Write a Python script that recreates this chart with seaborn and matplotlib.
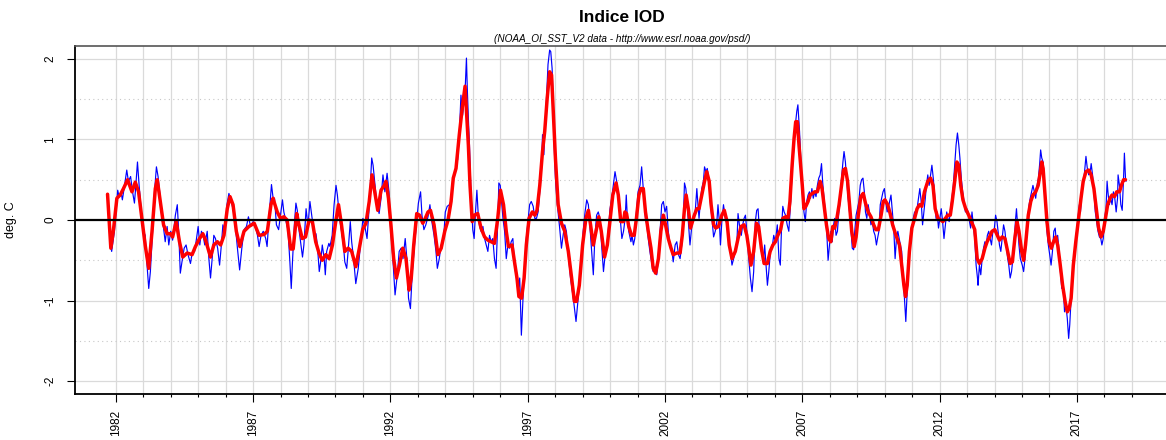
import matplotlib
matplotlib.use("Agg")
import pandas as pd
import matplotlib.pyplot as plt
import seaborn as sns

# values: (decimal year, IOD index in deg. C)
# blue = weekly index, red = smoothed index

blue_1982_1987 = [(1981.70,0.32),(1981.79,-0.27),(1981.85,-0.39),(1981.95,-0.14),(1982.01,0.10),(1982.07,0.37),(1982.12,0.29),(1982.20,0.33),(1982.24,0.25),(1982.32,0.43),
    (1982.40,0.62),(1982.46,0.48),(1982.54,0.54),(1982.61,0.35),(1982.68,0.21),(1982.73,0.43),(1982.79,0.72),(1982.85,0.43),(1982.93,0.10),(1983.01,-0.14),
    (1983.07,-0.19),(1983.13,-0.52),(1983.20,-0.85),(1983.26,-0.64),(1983.34,-0.14),(1983.41,0.35),(1983.48,0.66),(1983.54,0.54),(1983.61,0.31),(1983.68,0.02),
    (1983.74,-0.10),(1983.80,-0.27),(1983.87,-0.08),(1983.93,-0.31),(1984.00,-0.14),(1984.07,-0.25),(1984.17,0.06),(1984.24,0.19),(1984.29,-0.14),(1984.35,-0.66),
    (1984.41,-0.52),(1984.49,-0.35),(1984.56,-0.31),(1984.63,-0.43),(1984.72,-0.54),(1984.78,-0.41),(1984.87,-0.39),(1984.94,-0.23),(1985.00,-0.08),(1985.06,-0.31),
    (1985.12,-0.14),(1985.18,-0.19),(1985.24,-0.31),(1985.33,-0.14),(1985.39,-0.48),(1985.45,-0.72),(1985.51,-0.48),(1985.57,-0.19),(1985.63,-0.23),(1985.71,-0.35),
    (1985.78,-0.56),(1985.85,-0.29),(1985.90,-0.06),(1985.98,-0.14),(1986.05,0.19),(1986.12,0.33),(1986.20,0.23),(1986.27,0.14),(1986.34,-0.02),(1986.43,-0.35),
    (1986.51,-0.62),(1986.59,-0.35),(1986.67,-0.12),(1986.76,-0.08),(1986.83,0.04),(1986.91,-0.08),(1987.00,-0.02),(1987.07,-0.06),(1987.16,-0.19),(1987.22,-0.33),
    (1987.29,-0.19),(1987.37,-0.14),(1987.46,-0.23),(1987.51,-0.33),(1987.59,0.08),(1987.67,0.44),(1987.73,0.27)]

blue_1988_1994 = [(1987.78,0.27),(1987.85,-0.06),(1987.93,-0.12),(1988.00,0.06),(1988.07,0.25),(1988.12,0.10),(1988.20,-0.02),(1988.27,-0.12),(1988.34,-0.52),(1988.39,-0.85),
    (1988.44,-0.48),(1988.51,-0.02),(1988.56,0.21),(1988.61,0.12),(1988.68,-0.14),(1988.73,-0.27),(1988.80,-0.46),(1988.85,-0.31),(1988.93,0.14),(1989.00,-0.08),
    (1989.07,0.23),(1989.15,0.02),(1989.22,-0.19),(1989.29,-0.17),(1989.34,-0.31),(1989.41,-0.64),(1989.46,-0.52),(1989.52,-0.31),(1989.59,-0.48),(1989.63,-0.68),
    (1989.68,-0.39),(1989.76,-0.29),(1989.80,-0.33),(1989.88,-0.19),(1989.95,0.19),(1990.02,0.43),(1990.07,0.31),(1990.15,0.02),(1990.22,-0.14),(1990.29,-0.31),
    (1990.34,-0.52),(1990.41,-0.60),(1990.46,-0.39),(1990.54,-0.02),(1990.59,-0.27),(1990.66,-0.48),(1990.74,-0.79),(1990.83,-0.60),(1990.93,-0.23),(1991.00,0.02),
    (1991.07,-0.08),(1991.15,-0.23),(1991.22,0.12),(1991.27,0.43),(1991.32,0.77),(1991.37,0.68),(1991.44,0.43),(1991.51,0.19),(1991.59,0.08),(1991.66,0.27),
    (1991.73,0.56),(1991.80,0.35),(1991.88,0.58),(1991.95,0.35),(1992.00,-0.06),(1992.09,-0.48),(1992.17,-0.93),(1992.24,-0.72),(1992.32,-0.39),(1992.39,-0.35),
    (1992.46,-0.48),(1992.54,-0.23),(1992.61,-0.52),(1992.66,-0.97),(1992.73,-1.10),(1992.80,-0.64),(1992.88,-0.31),(1992.95,-0.04),(1993.02,0.21),(1993.10,0.35),
    (1993.15,0.06),(1993.22,-0.12),(1993.29,-0.06),(1993.37,0.04),(1993.44,0.19),(1993.51,-0.02),(1993.59,-0.19),(1993.66,-0.39),(1993.71,-0.60),(1993.78,-0.48),
    (1993.85,-0.31),(1993.93,-0.27),(1994.00,0.10),(1994.07,0.17),(1994.15,0.19)]

blue_1994_2000 = [(1994.21,0.19),(1994.27,0.48),(1994.33,0.54),(1994.39,0.68),(1994.45,0.75),(1994.51,1.06),(1994.57,1.55),(1994.63,1.30),(1994.70,1.55),(1994.73,1.68),
    (1994.77,2.01),(1994.80,1.64),(1994.84,1.26),(1994.88,0.93),(1994.94,0.27),(1995.00,-0.12),(1995.05,-0.23),(1995.10,0.10),(1995.15,0.37),(1995.20,0.06),
    (1995.24,-0.06),(1995.30,-0.14),(1995.37,-0.08),(1995.43,-0.23),(1995.49,-0.31),(1995.55,-0.39),(1995.61,-0.19),(1995.67,-0.27),(1995.73,-0.23),(1995.79,-0.48),
    (1995.85,-0.60),(1995.91,-0.02),(1995.95,0.46),(1996.00,0.43),(1996.05,0.23),(1996.10,0.02),(1996.16,-0.14),(1996.22,-0.48),(1996.28,-0.31),(1996.34,-0.35),
    (1996.40,-0.27),(1996.46,-0.23),(1996.52,-0.56),(1996.59,-0.72),(1996.65,-0.89),(1996.71,-0.72),(1996.77,-1.43),(1996.83,-0.97),(1996.89,-0.56),(1996.95,-0.23),
    (1997.01,-0.02),(1997.07,0.19),(1997.13,0.23),(1997.20,0.17),(1997.26,0.02),(1997.32,0.02),(1997.38,0.10),(1997.44,0.35),(1997.50,0.60),(1997.54,1.06),
    (1997.59,0.81),(1997.62,1.10),(1997.68,1.47),(1997.74,1.93),(1997.80,2.11),(1997.84,2.09),(1997.89,1.88),(1997.93,1.43),(1997.96,0.97),(1998.01,0.52),
    (1998.07,0.23),(1998.17,-0.12),(1998.23,-0.35),(1998.29,-0.19),(1998.35,-0.06),(1998.41,-0.14),(1998.48,-0.43),(1998.56,-0.72),(1998.66,-0.97),(1998.76,-1.26),
    (1998.84,-0.97),(1998.93,-0.64),(1999.02,-0.14),(1999.09,0.10),(1999.15,0.25),(1999.21,0.19),(1999.27,-0.10),(1999.33,-0.39),(1999.39,-0.68),(1999.45,-0.19),
    (1999.51,0.06),(1999.57,0.10),(1999.63,0.02),(1999.70,-0.35),(1999.76,-0.64),(1999.82,-0.43),(1999.88,-0.35),(1999.94,-0.10),(2000.00,0.14),(2000.06,0.27),
    (2000.12,0.43),(2000.18,0.60),(2000.24,0.48),(2000.30,0.27),(2000.37,0.02),(2000.43,-0.23),(2000.49,-0.14),(2000.55,0.02)]

blue_2000_2006 = [(2000.59,0.31),(2000.63,0.02),(2000.68,-0.14),(2000.76,-0.27),(2000.80,-0.19),(2000.85,-0.31),(2000.90,-0.23),(2000.96,0.10),(2001.02,0.35),(2001.09,0.43),
    (2001.15,0.66),(2001.20,0.43),(2001.24,0.27),(2001.29,0.02),(2001.34,-0.06),(2001.39,-0.23),(2001.45,-0.39),(2001.51,-0.52),(2001.57,-0.64),(2001.63,-0.58),
    (2001.70,-0.68),(2001.76,-0.48),(2001.82,-0.14),(2001.88,0.19),(2001.94,0.23),(2002.00,0.10),(2002.06,0.17),(2002.12,-0.14),(2002.18,-0.31),(2002.24,-0.35),
    (2002.30,-0.52),(2002.37,-0.31),(2002.43,-0.27),(2002.49,-0.43),(2002.55,-0.48),(2002.61,-0.31),(2002.67,0.02),(2002.71,0.46),(2002.76,0.39),(2002.80,0.23),
    (2002.85,-0.02),(2002.91,-0.31),(2002.98,-0.06),(2003.04,0.06),(2003.10,0.10),(2003.16,0.39),(2003.20,0.19),(2003.24,0.02),(2003.29,0.23),(2003.34,0.39),
    (2003.40,0.48),(2003.44,0.66),(2003.49,0.60),(2003.54,0.64),(2003.59,0.52),(2003.65,0.23),(2003.71,0.02),(2003.77,-0.21),(2003.83,-0.14),(2003.89,-0.02),
    (2003.93,0.19),(2003.98,-0.02),(2004.02,-0.31),(2004.07,-0.02),(2004.13,0.19),(2004.20,0.02),(2004.26,-0.06),(2004.32,-0.27),(2004.38,-0.39),(2004.44,-0.56),
    (2004.50,-0.48),(2004.56,-0.39),(2004.62,-0.27),(2004.66,0.08),(2004.71,-0.06),(2004.78,-0.19),(2004.83,-0.06),(2004.88,0.02),(2004.93,0.06),(2004.98,-0.14),
    (2005.05,-0.48),(2005.11,-0.72),(2005.17,-0.89),(2005.23,-0.64),(2005.29,-0.02),(2005.34,0.12),(2005.39,0.14),(2005.44,-0.14),(2005.51,-0.39),(2005.59,-0.48),
    (2005.63,-0.31),(2005.68,-0.56),(2005.73,-0.81),(2005.78,-0.64),(2005.84,-0.39),(2005.90,-0.35),(2005.96,-0.19),(2006.02,-0.27),(2006.09,-0.06),(2006.15,-0.48),
    (2006.20,-0.56),(2006.24,-0.14),(2006.29,0.17),(2006.34,0.10),(2006.39,0.06),(2006.45,-0.06),(2006.51,-0.14),(2006.57,0.19),(2006.63,0.60),(2006.70,0.93),
    (2006.76,1.22),(2006.80,1.35),(2006.84,1.43),(2006.90,1.10)]

blue_2007_2013 = [(2007.00,0.35),(2007.06,0.10),(2007.11,-0.02),(2007.16,0.23),(2007.21,0.31),(2007.26,0.35),(2007.30,0.27),(2007.35,0.39),(2007.40,0.27),(2007.45,0.35),
    (2007.50,0.29),(2007.55,0.43),(2007.60,0.52),(2007.65,0.56),(2007.70,0.70),(2007.74,0.48),(2007.79,0.27),(2007.84,0.10),(2007.89,-0.14),(2007.94,-0.50),
    (2007.99,-0.31),(2008.04,-0.14),(2008.09,-0.27),(2008.13,-0.08),(2008.18,0.02),(2008.23,-0.19),(2008.28,-0.14),(2008.33,0.10),(2008.38,0.23),(2008.43,0.52),
    (2008.48,0.72),(2008.52,0.85),(2008.57,0.72),(2008.62,0.48),(2008.67,0.27),(2008.72,0.10),(2008.77,-0.10),(2008.82,-0.35),(2008.87,-0.37),(2008.91,-0.14),
    (2008.96,0.06),(2009.01,0.14),(2009.06,0.23),(2009.11,0.43),(2009.16,0.50),(2009.21,0.52),(2009.26,0.35),(2009.30,0.10),(2009.35,0.02),(2009.40,0.19),
    (2009.45,0.08),(2009.50,-0.06),(2009.55,-0.02),(2009.60,-0.14),(2009.65,-0.19),(2009.70,-0.31),(2009.74,-0.23),(2009.79,-0.14),(2009.84,0.19),(2009.89,0.27),
    (2009.94,0.35),(2009.99,0.39),(2010.04,0.23),(2010.09,0.10),(2010.13,0.14),(2010.18,0.23),(2010.23,0.31),(2010.28,0.10),(2010.33,-0.10),(2010.38,-0.48),
    (2010.43,-0.23),(2010.48,-0.14),(2010.55,-0.27),(2010.62,-0.39),(2010.67,-0.72),(2010.72,-0.97),(2010.77,-1.26),(2010.82,-0.89),(2010.89,-0.48),(2010.94,-0.19),
    (2010.99,-0.14),(2011.04,0.02),(2011.09,0.10),(2011.13,0.06),(2011.18,0.14),(2011.23,0.27),(2011.28,0.39),(2011.33,0.23),(2011.38,-0.06),(2011.43,0.10),
    (2011.48,0.27),(2011.52,0.43),(2011.57,0.56),(2011.62,0.43),(2011.67,0.56),(2011.72,0.68),(2011.77,0.52),(2011.82,0.31),(2011.87,0.02),(2011.91,0.10),
    (2011.96,-0.10),(2012.01,0.02),(2012.06,0.14),(2012.11,-0.02),(2012.16,-0.23),(2012.21,-0.06),(2012.26,0.10),(2012.30,0.02),(2012.35,-0.02),(2012.40,0.14),
    (2012.45,0.27),(2012.50,0.43),(2012.55,0.68),(2012.60,0.93),(2012.65,1.08),(2012.70,0.93),(2012.74,0.77),(2012.79,0.52),(2012.84,0.35),(2012.89,0.23),
    (2012.94,0.10),(2012.99,0.14),(2013.04,0.10),(2013.09,-0.02),(2013.13,-0.10),(2013.18,0.10),(2013.23,-0.06),(2013.28,-0.23),(2013.33,-0.56),(2013.38,-0.72)]

blue_2013_2018 = [(2013.40,-0.81),(2013.45,-0.56),(2013.50,-0.68),(2013.55,-0.48),(2013.60,-0.35),(2013.65,-0.27),(2013.70,-0.31),(2013.74,-0.19),(2013.79,-0.14),(2013.84,-0.23),
    (2013.89,-0.31),(2013.94,-0.14),(2013.99,-0.12),(2014.04,0.06),(2014.09,-0.02),(2014.13,-0.14),(2014.18,-0.31),(2014.23,-0.39),(2014.28,-0.23),(2014.33,-0.06),
    (2014.38,-0.14),(2014.43,-0.31),(2014.48,-0.48),(2014.52,-0.56),(2014.57,-0.72),(2014.62,-0.64),(2014.67,-0.48),(2014.72,-0.23),(2014.77,0.02),(2014.80,0.14),
    (2014.84,-0.06),(2014.89,-0.31),(2014.94,-0.48),(2015.01,-0.56),(2015.06,-0.64),(2015.11,-0.48),(2015.16,-0.23),(2015.21,0.02),(2015.26,0.19),(2015.30,0.27),
    (2015.35,0.35),(2015.40,0.43),(2015.45,0.35),(2015.50,0.27),(2015.55,0.43),(2015.60,0.52),(2015.65,0.72),(2015.68,0.87),(2015.72,0.77),(2015.77,0.72),
    (2015.82,0.43),(2015.87,0.10),(2015.91,-0.14),(2015.96,-0.31),(2016.01,-0.43),(2016.06,-0.56),(2016.11,-0.39),(2016.16,-0.14),(2016.21,-0.10),(2016.26,-0.31),
    (2016.30,-0.19),(2016.35,-0.39),(2016.40,-0.64),(2016.45,-0.85),(2016.50,-0.81),(2016.55,-1.14),(2016.60,-1.06),(2016.65,-1.22),(2016.70,-1.47),(2016.74,-1.30),
    (2016.79,-0.97),(2016.84,-0.64),(2016.89,-0.48),(2016.94,-0.31),(2016.99,-0.14),(2017.04,0.02),(2017.09,0.19),(2017.13,0.10),(2017.18,0.35),(2017.23,0.43),
    (2017.28,0.60),(2017.33,0.79),(2017.38,0.64),(2017.43,0.56),(2017.48,0.58),(2017.52,0.70),(2017.57,0.56),(2017.62,0.35),(2017.67,0.10),(2017.72,-0.02),
    (2017.77,-0.14),(2017.82,-0.21),(2017.87,-0.23),(2017.91,-0.31),(2017.96,-0.23),(2018.01,0.02),(2018.06,0.14),(2018.10,0.48),(2018.13,0.35),(2018.18,0.19),
    (2018.23,0.27),(2018.28,0.19),(2018.33,0.35),(2018.38,0.27),(2018.43,0.10),(2018.48,0.27),(2018.50,0.56),(2018.55,0.43),(2018.60,0.19),(2018.65,0.12),
    (2018.70,0.52),(2018.73,0.83),(2018.77,0.52),(2018.79,0.48)]

red_1982_1987 = [(1981.70,0.32),(1981.82,-0.35),(1981.91,-0.14),(1982.04,0.27),(1982.16,0.31),(1982.28,0.39),(1982.43,0.50),(1982.59,0.35),(1982.71,0.47),(1982.83,0.35),
    (1982.95,0.02),(1983.07,-0.31),(1983.20,-0.60),(1983.32,-0.14),(1983.44,0.39),(1983.51,0.50),(1983.62,0.23),(1983.74,-0.06),(1983.87,-0.17),(1983.99,-0.17),
    (1984.07,-0.21),(1984.20,-0.02),(1984.32,-0.27),(1984.44,-0.46),(1984.60,-0.41),(1984.78,-0.43),(1984.90,-0.33),(1985.05,-0.23),(1985.17,-0.17),(1985.27,-0.25),
    (1985.45,-0.46),(1985.57,-0.31),(1985.70,-0.27),(1985.82,-0.31),(1985.94,-0.19),(1986.06,0.14),(1986.16,0.29),(1986.27,0.19),(1986.39,-0.14),(1986.52,-0.33),
    (1986.67,-0.14),(1986.85,-0.08),(1987.04,-0.04),(1987.22,-0.19),(1987.40,-0.18),(1987.52,-0.14),(1987.65,0.19),(1987.73,0.27)]

red_1988_1994 = [(1987.76,0.23),(1987.88,0.10),(1988.00,0.02),(1988.12,0.04),(1988.24,0.00),(1988.37,-0.36),(1988.46,-0.36),(1988.59,0.08),(1988.67,-0.06),(1988.79,-0.23),
    (1988.91,-0.21),(1989.04,0.00),(1989.16,-0.02),(1989.28,-0.27),(1989.40,-0.41),(1989.52,-0.50),(1989.65,-0.43),(1989.77,-0.48),(1989.89,-0.31),(1990.01,-0.02),
    (1990.11,0.19),(1990.22,-0.06),(1990.34,-0.39),(1990.46,-0.35),(1990.59,-0.39),(1990.74,-0.58),(1990.87,-0.35),(1990.99,-0.12),(1991.11,-0.04),(1991.23,0.23),
    (1991.33,0.56),(1991.41,0.39),(1991.54,0.12),(1991.66,0.37),(1991.78,0.43),(1991.84,0.48),(1991.93,0.27),(1992.02,-0.06),(1992.12,-0.48),(1992.22,-0.72),
    (1992.33,-0.56),(1992.45,-0.35),(1992.57,-0.48),(1992.68,-0.87),(1992.76,-0.72),(1992.85,-0.31),(1992.96,0.08),(1993.06,0.06),(1993.18,-0.04),(1993.27,0.02),
    (1993.37,0.10),(1993.46,0.12),(1993.59,-0.06),(1993.73,-0.43),(1993.85,-0.35),(1993.98,-0.14),(1994.10,0.00)]

red_1994_2000 = [(1994.21,0.23),(1994.29,0.52),(1994.39,0.64),(1994.51,1.06),(1994.63,1.43),(1994.72,1.66),(1994.78,1.30),(1994.84,0.93),(1994.90,0.43),(1994.98,-0.02),
    (1995.06,0.06),(1995.18,0.08),(1995.30,-0.10),(1995.43,-0.21),(1995.55,-0.25),(1995.67,-0.27),(1995.79,-0.29),(1995.91,0.02),(1996.01,0.37),(1996.12,0.19),
    (1996.22,-0.14),(1996.30,-0.33),(1996.43,-0.31),(1996.52,-0.52),(1996.61,-0.72),(1996.68,-0.95),(1996.78,-0.97),(1996.87,-0.72),(1996.95,-0.31),(1997.05,0.02),
    (1997.17,0.10),(1997.26,0.06),(1997.34,0.12),(1997.44,0.43),(1997.54,0.85),(1997.62,1.10),(1997.71,1.51),(1997.80,1.84),(1997.87,1.80),(1997.93,1.35),
    (1998.01,0.77),(1998.11,0.19),(1998.23,-0.04),(1998.35,-0.14),(1998.48,-0.39),(1998.60,-0.72),(1998.70,-1.01),(1998.78,-1.01),(1998.88,-0.81),(1999.00,-0.31),
    (1999.12,0.02),(1999.21,0.12),(1999.29,-0.06),(1999.39,-0.31),(1999.49,-0.14),(1999.59,0.04),(1999.68,-0.14),(1999.80,-0.46),(1999.90,-0.31),(2000.00,0.00),
    (2000.10,0.31),(2000.22,0.46),(2000.30,0.31),(2000.39,-0.02),(2000.49,-0.02)]

red_2000_2006 = [(2000.54,0.10),(2000.60,0.08),(2000.68,-0.08),(2000.78,-0.19),(2000.88,-0.19),(2000.96,0.02),(2001.05,0.31),(2001.12,0.39),(2001.21,0.39),(2001.29,0.10),
    (2001.39,-0.14),(2001.49,-0.35),(2001.57,-0.60),(2001.66,-0.66),(2001.76,-0.48),(2001.85,-0.14),(2001.94,0.06),(2002.02,-0.06),(2002.12,-0.23),(2002.22,-0.35),
    (2002.30,-0.43),(2002.43,-0.41),(2002.55,-0.41),(2002.63,-0.19),(2002.71,0.14),(2002.77,0.31),(2002.85,0.14),(2002.93,-0.10),(2003.00,-0.02),(2003.07,0.06),
    (2003.16,0.14),(2003.24,0.14),(2003.34,0.31),(2003.44,0.48),(2003.52,0.60),(2003.61,0.48),(2003.68,0.19),(2003.77,-0.06),(2003.85,-0.10),(2003.95,-0.08),
    (2004.07,0.06),(2004.16,0.12),(2004.26,-0.02),(2004.34,-0.31),(2004.44,-0.48),(2004.56,-0.39),(2004.66,-0.23),(2004.77,-0.08),(2004.88,-0.06),(2004.98,-0.19),
    (2005.05,-0.35),(2005.13,-0.56),(2005.23,-0.39),(2005.33,-0.04),(2005.41,-0.08),(2005.51,-0.35),(2005.61,-0.54),(2005.73,-0.54),(2005.83,-0.39),(2005.93,-0.31),
    (2006.02,-0.27),(2006.11,-0.19),(2006.21,-0.12),(2006.29,0.02),(2006.39,0.04),(2006.48,0.02),(2006.55,0.23),(2006.63,0.68),(2006.70,1.01),(2006.76,1.22),
    (2006.82,1.22),(2006.88,0.93)]

red_2007_2013 = [(2007.00,0.43),(2007.06,0.14),(2007.13,0.17),(2007.21,0.23),(2007.28,0.31),(2007.37,0.33),(2007.45,0.35),(2007.55,0.35),(2007.65,0.48),(2007.72,0.39),
    (2007.79,0.19),(2007.88,-0.06),(2007.96,-0.23),(2008.04,-0.27),(2008.11,-0.08),(2008.18,-0.10),(2008.26,0.02),(2008.34,0.19),(2008.43,0.43),(2008.50,0.62),
    (2008.57,0.64),(2008.65,0.48),(2008.72,0.19),(2008.80,-0.14),(2008.89,-0.33),(2008.96,-0.21),(2009.04,0.06),(2009.13,0.29),(2009.22,0.33),(2009.30,0.21),
    (2009.40,0.10),(2009.50,0.04),(2009.60,-0.06),(2009.68,-0.12),(2009.77,-0.12),(2009.87,0.06),(2009.95,0.23),(2010.01,0.25),(2010.11,0.19),(2010.20,0.08),
    (2010.29,-0.06),(2010.41,-0.19),(2010.54,-0.31),(2010.62,-0.56),(2010.70,-0.81),(2010.76,-0.95),(2010.82,-0.81),(2010.90,-0.39),(2010.99,-0.10),(2011.09,0.02),
    (2011.18,0.14),(2011.27,0.19),(2011.35,0.17),(2011.45,0.35),(2011.57,0.48),(2011.67,0.52),(2011.76,0.43),(2011.84,0.14),(2011.94,0.02),(2012.04,0.00),
    (2012.12,-0.02),(2012.21,0.02),(2012.30,0.06),(2012.39,0.06),(2012.46,0.23),(2012.55,0.48),(2012.63,0.72),(2012.70,0.68),(2012.77,0.43),(2012.85,0.25),
    (2012.95,0.14),(2013.06,0.06),(2013.16,-0.02),(2013.28,-0.12)]

red_2013_2018 = [(2013.37,-0.48),(2013.45,-0.54),(2013.55,-0.48),(2013.65,-0.35),(2013.73,-0.27),(2013.82,-0.21),(2013.91,-0.14),(2014.01,-0.12),(2014.10,-0.19),(2014.18,-0.25),
    (2014.28,-0.21),(2014.38,-0.23),(2014.48,-0.39),(2014.57,-0.54),(2014.65,-0.52),(2014.74,-0.23),(2014.82,-0.02),(2014.89,-0.14),(2014.99,-0.39),(2015.06,-0.50),
    (2015.13,-0.31),(2015.23,0.06),(2015.32,0.23),(2015.40,0.31),(2015.50,0.35),(2015.59,0.43),(2015.67,0.60),(2015.72,0.72),(2015.77,0.64),(2015.84,0.31),
    (2015.91,-0.02),(2015.99,-0.27),(2016.07,-0.35),(2016.15,-0.27),(2016.23,-0.21),(2016.30,-0.31),(2016.38,-0.52),(2016.48,-0.81),(2016.57,-1.01),(2016.65,-1.14),
    (2016.72,-1.10),(2016.79,-0.97),(2016.87,-0.56),(2016.96,-0.27),(2017.06,0.02),(2017.15,0.27),(2017.23,0.48),(2017.33,0.60),(2017.43,0.62),(2017.52,0.56),
    (2017.62,0.39),(2017.72,0.10),(2017.79,-0.10),(2017.88,-0.21),(2017.96,-0.14),(2018.04,0.02),(2018.12,0.19),(2018.21,0.27),(2018.28,0.31),(2018.37,0.29),
    (2018.45,0.35),(2018.55,0.35),(2018.62,0.43),(2018.70,0.50),(2018.77,0.50)]

year_ticks = [1982, 1987, 1992, 1997, 2002, 2007, 2012, 2017]
grid_years = list(range(1982, 2020))
y_ticks = [-2, -1, 0, 1, 2]

sns.set_style("white")
plt.rcParams["font.family"] = ["Liberation Sans", "DejaVu Sans"]
plt.rcParams["text.color"] = "black"
plt.rcParams["axes.labelcolor"] = "black"
plt.rcParams["xtick.color"] = "black"
plt.rcParams["ytick.color"] = "black"

blue = pd.DataFrame(blue_1982_1987 + blue_1988_1994 + blue_1994_2000 + blue_2000_2006
                    + blue_2007_2013 + blue_2013_2018, columns=["year", "iod"])
red = pd.DataFrame(red_1982_1987 + red_1988_1994 + red_1994_2000 + red_2000_2006
                   + red_2007_2013 + red_2013_2018, columns=["year", "iod"])

W, H = 1166, 440
fig = plt.figure(figsize=(W / 100, H / 100), dpi=100)
ax = fig.add_axes([75 / W, 1 - 394 / H, 1 - 75 / W + 0.002, (394 - 46) / H])

# background grid, R style
for yr in grid_years:
    ax.axvline(yr, color="#dadada", lw=0.9, zorder=0)
for yv in [-2, -1, 1, 2]:
    ax.axhline(yv, color="#dadada", lw=0.9, zorder=0)
for yv in [-1.5, -0.5, 0.5, 1.5]:
    ax.axhline(yv, color="#c8c8c8", lw=0.8, ls=(0, (1, 3)), zorder=0)

sns.lineplot(data=blue, x="year", y="iod", color="#0000ff", lw=0.85,
             estimator=None, sort=False, ax=ax, zorder=2)
sns.lineplot(data=red, x="year", y="iod", color="#ff0000", lw=2.5,
             estimator=None, sort=False, ax=ax, zorder=3)
ax.axhline(0, color="black", lw=1.6, zorder=4)

ax.set_xlim(1980.515, 2020.33)
ax.set_ylim(-2.16, 2.16)

ax.set_xticks(year_ticks)
ax.set_xticks(grid_years, minor=True)
ax.set_xticklabels([str(y) for y in year_ticks], rotation=90)
ax.set_yticks(y_ticks)
ax.set_yticklabels([str(y) for y in y_ticks], rotation=90, va="center")
ax.tick_params(axis="both", which="major", direction="out", length=5.5, width=0.8,
               color="black", labelsize=8.5, bottom=True, left=True)
ax.tick_params(axis="x", which="minor", direction="out", length=2.5, width=0.8,
               color="black", bottom=True)
ax.tick_params(axis="x", pad=6)
ax.tick_params(axis="y", pad=8)

ax.set_xlabel("")
ax.set_ylabel("deg. C", fontsize=9)
ax.yaxis.set_label_coords(-0.053, 0.5)

for side in ["left", "bottom"]:
    ax.spines[side].set_color("black")
    ax.spines[side].set_linewidth(1.3)
ax.spines["top"].set_color("#555555")
ax.spines["top"].set_linewidth(1.2)
ax.spines["right"].set_visible(False)

fig.text(622 / W, 1 - 17 / H, "Indice IOD", ha="center", va="center",
         fontsize=12.5, fontweight="bold")
fig.text(622 / W, 1 - 39 / H, "(NOAA_OI_SST_V2 data - http://www.esrl.noaa.gov/psd/)",
         ha="center", va="center", fontsize=7.2, style="italic")

fig.savefig("out.png", dpi=100)
